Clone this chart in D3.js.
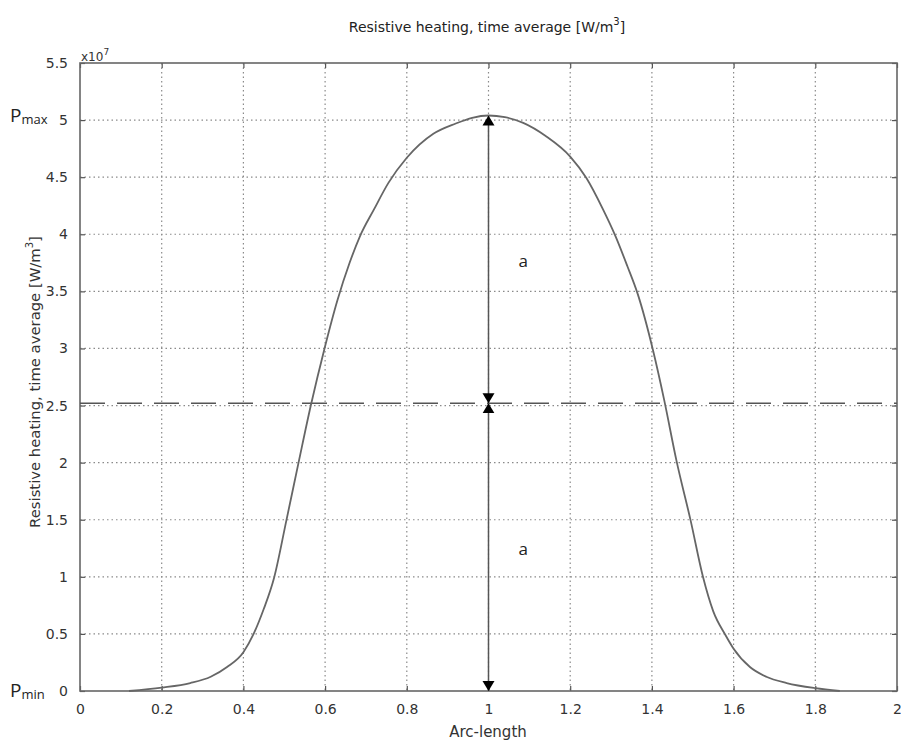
<!DOCTYPE html>
<html>
<head>
<meta charset="utf-8">
<script src="https://cdn.jsdelivr.net/npm/d3@7"></script>
<style>
  html, body { margin: 0; padding: 0; background: #fff; }
  svg { display: block; }
</style>
</head>
<body>
<svg id="chart" width="901" height="742"></svg>
<script>
// ---- data (values in units of 1e7 W/m^3) ----
const arcLength = [0.12, 0.2, 0.27, 0.32, 0.36, 0.4, 0.425, 0.45, 0.475, 0.505, 0.535, 0.565, 0.6, 0.63, 0.66, 0.685, 0.72, 0.755, 0.8, 0.865, 0.92, 0.96, 1.0, 1.04, 1.085, 1.14, 1.2, 1.24, 1.28, 1.31, 1.34, 1.365, 1.403, 1.43, 1.46, 1.495, 1.525, 1.55, 1.58, 1.6, 1.64, 1.68, 1.73, 1.8, 1.86];
const heating   = [0, 0.03, 0.07, 0.125, 0.21, 0.34, 0.5, 0.72, 0.99, 1.49, 2.0, 2.5, 3.02, 3.42, 3.75, 3.98, 4.22, 4.45, 4.67, 4.88, 4.97, 5.02, 5.04, 5.025, 4.975, 4.86, 4.68, 4.49, 4.22, 3.99, 3.72, 3.48, 2.98, 2.55, 2.02, 1.49, 1.0, 0.7, 0.49, 0.37, 0.21, 0.125, 0.07, 0.025, 0];
const xTicks = [0, 0.2, 0.4, 0.6, 0.8, 1, 1.2, 1.4, 1.6, 1.8, 2];
const yTicks = [0, 0.5, 1, 1.5, 2, 2.5, 3, 3.5, 4, 4.5, 5, 5.5];
const pMax = 5.04;
const pMin = 0;
const pAvg = (pMax + pMin) / 2;
const peakX = 1;
const titleText = "Resistive heating, time average [W/m";
const xLabel = "Arc-length";

const svg = d3.select("#chart");
const M = { left: 80, right: 897, top: 63, bottom: 691 };
const x = d3.scaleLinear().domain([0, 2]).range([M.left, M.right]);
const y = d3.scaleLinear().domain([0, 5.5]).range([M.bottom, M.top]);

const font = "'DejaVu Sans', Verdana, sans-serif";
const defs = svg.append("defs");
defs.append("marker").attr("id", "arrowEnd")
  .attr("viewBox", "0 0 10 14").attr("refX", 10).attr("refY", 7)
  .attr("markerWidth", 10).attr("markerHeight", 14)
  .attr("markerUnits", "userSpaceOnUse")
  .attr("orient", "auto")
  .append("path").attr("d", "M0,1 L10,7 L0,13 Z").attr("fill", "#000");
defs.append("marker").attr("id", "arrowStart")
  .attr("viewBox", "0 0 10 14").attr("refX", 0).attr("refY", 7)
  .attr("markerWidth", 10).attr("markerHeight", 14)
  .attr("markerUnits", "userSpaceOnUse")
  .attr("orient", "auto")
  .append("path").attr("d", "M10,1 L0,7 L10,13 Z").attr("fill", "#000");

// grid
const grid = svg.append("g");
grid.selectAll("line.vx").data(xTicks.slice(1, -1)).join("line")
  .attr("x1", d => x(d)).attr("x2", d => x(d))
  .attr("y1", M.top).attr("y2", M.bottom)
  .attr("stroke", "#8a8a8a").attr("stroke-width", 1.2).attr("stroke-dasharray", "1.5,3");
grid.selectAll("line.hy").data(yTicks.slice(1, -1)).join("line")
  .attr("y1", d => y(d)).attr("y2", d => y(d))
  .attr("x1", M.left).attr("x2", M.right)
  .attr("stroke", "#8a8a8a").attr("stroke-width", 1.2).attr("stroke-dasharray", "1.5,3");

// axes (ticks inward)
const axB = svg.append("g").attr("transform", `translate(0,${M.bottom})`)
  .call(d3.axisBottom(x).tickValues(xTicks).tickSize(-5).tickPadding(13).tickFormat(d3.format("~g")));
const axT = svg.append("g").attr("transform", `translate(0,${M.top})`)
  .call(d3.axisTop(x).tickValues(xTicks).tickSize(-5).tickFormat(""));
const axL = svg.append("g").attr("transform", `translate(${M.left},0)`)
  .call(d3.axisLeft(y).tickValues(yTicks).tickSize(-5).tickPadding(12).tickFormat(d3.format("~g")));
const axR = svg.append("g").attr("transform", `translate(${M.right},0)`)
  .call(d3.axisRight(y).tickValues(yTicks).tickSize(-5).tickFormat(""));
[axB, axT, axL, axR].forEach(a => {
  a.select(".domain").remove();
  a.selectAll(".tick line").attr("stroke", "#555").attr("stroke-width", 1.2);
  a.selectAll("text").attr("font-family", font).attr("font-size", 14).attr("fill", "#333");
});

// frame
svg.append("rect").attr("x", M.left).attr("y", M.top)
  .attr("width", M.right - M.left).attr("height", M.bottom - M.top)
  .attr("fill", "none").attr("stroke", "#666").attr("stroke-width", 1.6);

// dashed average line
svg.append("line").attr("x1", M.left).attr("x2", M.right)
  .attr("y1", y(pAvg)).attr("y2", y(pAvg))
  .attr("stroke", "#555").attr("stroke-width", 1.6).attr("stroke-dasharray", "25,12");

// curve
const line = d3.line().x((d, i) => x(arcLength[i])).y(d => y(d)).curve(d3.curveMonotoneX);
svg.append("path").datum(heating).attr("d", line)
  .attr("fill", "none").attr("stroke", "#666").attr("stroke-width", 1.8);

// arrows
const arrows = svg.append("g");
[[pAvg, pMax], [pMin, pAvg]].forEach(([a, b]) => {
  arrows.append("line")
    .attr("x1", x(peakX)).attr("x2", x(peakX))
    .attr("y1", y(a)).attr("y2", y(b))
    .attr("stroke", "#555").attr("stroke-width", 1.5)
    .attr("marker-start", "url(#arrowStart)").attr("marker-end", "url(#arrowEnd)");
});
arrows.selectAll("text.a").data([(pAvg + pMax) / 2, (pMin + pAvg) / 2]).join("text")
  .attr("x", x(1.085)).attr("y", d => y(d) + 8)
  .attr("font-family", "'Open Sans', 'Noto Sans', sans-serif").attr("font-size", 17).attr("fill", "#222")
  .attr("text-anchor", "middle").text("a");

// Pmax / Pmin labels
[[pMax, "max"], [pMin, "min"]].forEach(([v, sub]) => {
  const t = svg.append("text").attr("x", 10).attr("y", y(v) + 6)
    .attr("font-family", "'Open Sans', 'Noto Sans', sans-serif").attr("font-size", 19).attr("fill", "#222");
  t.append("tspan").text("P");
  t.append("tspan").attr("font-size", 13).attr("dy", 2).text(sub);
});

// scale factor x10^7
const sf = svg.append("text").attr("x", 81).attr("y", 61)
  .attr("font-family", font).attr("font-size", 12).attr("fill", "#333");
sf.append("tspan").text("x10");
sf.append("tspan").attr("font-size", 9).attr("dy", -6).text("7");

// title
const tt = svg.append("text").attr("x", 487).attr("y", 32).attr("text-anchor", "middle")
  .attr("font-family", font).attr("font-size", 14).attr("fill", "#222");
tt.append("tspan").text(titleText);
tt.append("tspan").attr("font-size", 10).attr("dy", -7).text("3");
tt.append("tspan").attr("dy", 7).text("]");

// y label
const yl = svg.append("text").attr("transform", `translate(40,${382}) rotate(-90)`)
  .attr("text-anchor", "middle")
  .attr("font-family", font).attr("font-size", 14.8).attr("fill", "#333");
yl.append("tspan").text(titleText);
yl.append("tspan").attr("font-size", 10).attr("dy", -7).text("3");
yl.append("tspan").attr("dy", 7).text("]");

// x label
svg.append("text").attr("x", 488).attr("y", 737).attr("text-anchor", "middle")
  .attr("font-family", font).attr("font-size", 15).attr("fill", "#333").text(xLabel);
</script>
</body>
</html>
